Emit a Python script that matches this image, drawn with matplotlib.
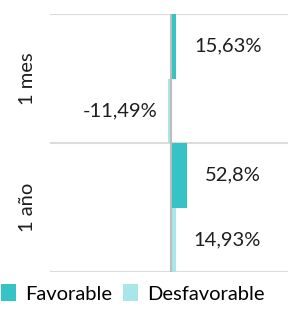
import matplotlib.pyplot as plt
import numpy as np

categories = ['1 mes', '1 año']
favorable = [15.63, 52.8]
desfavorable = [-11.49, 14.93]
fav_labels = ['15,63%', '52,8%']
desf_labels = ['-11,49%', '14,93%']

TEAL = '#35c3c6'
LIGHT = '#a8e6e9'
FS = 14.5

plt.rcParams['font.family'] = ['Lato', 'DejaVu Sans']

fig = plt.figure(figsize=(2.88, 3.13), dpi=100)
ax = fig.add_axes([50 / 288, 41 / 313, 238 / 288, 258 / 313])

y = np.arange(len(categories))
h = 0.5
ax.barh(y - h / 2, favorable, height=h, color=TEAL, label='Favorable', zorder=2)
ax.barh(y + h / 2, desfavorable, height=h, color=LIGHT, label='Desfavorable', zorder=2)

ax.axvline(0, color='#bdbdbd', lw=1.5, zorder=3)
for b in [-0.5, 0.5, 1.5]:
    ax.axhline(b, color='#dcdcdc', lw=1.5, zorder=1)

for i in range(len(categories)):
    for val, lab, off in [(favorable[i], fav_labels[i], -h / 2), (desfavorable[i], desf_labels[i], h / 2)]:
        if val >= 0:
            ax.annotate(lab, (val, i + off), xytext=(13, 0), textcoords='offset points',
                        ha='left', va='center', fontsize=FS, color='#1e1e1e')
        else:
            ax.annotate(lab, (val, i + off), xytext=(-8, 0), textcoords='offset points',
                        ha='right', va='center', fontsize=FS, color='#1e1e1e')

ax.set_xlim(-419, 402)
ax.set_ylim(1.5, -0.5)
ax.set_xticks([])
ax.set_yticks(y)
ax.set_yticklabels(categories, rotation=90, va='center', fontsize=FS, color='#1e1e1e')
ax.tick_params(axis='y', length=0, pad=10)
for s in ax.spines.values():
    s.set_visible(False)

fig.legend(loc='lower left', bbox_to_anchor=(-0.045, -0.012), ncol=2, frameon=False,
           fontsize=FS, handlelength=0.75, handleheight=0.95, handletextpad=0.45,
           columnspacing=0.55, borderpad=0.2)

fig.savefig('out.png', dpi=100)
